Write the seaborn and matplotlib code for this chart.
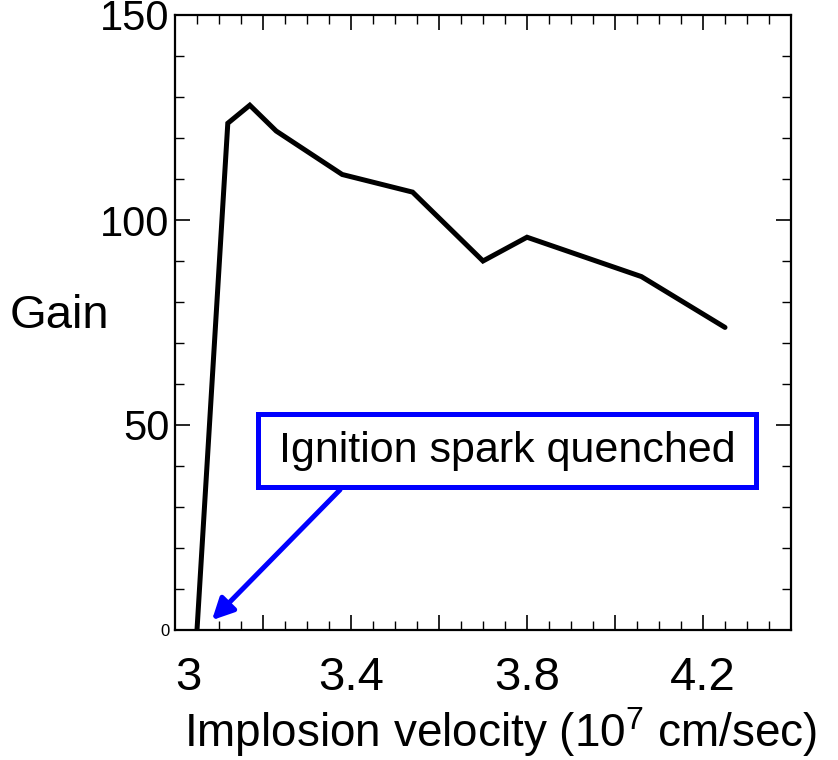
import matplotlib
matplotlib.use("Agg")
import matplotlib.pyplot as plt
import seaborn as sns
import pandas as pd
from matplotlib.patches import Rectangle
from matplotlib.ticker import MultipleLocator

# Gain versus implosion velocity
velocity = [3.05, 3.12, 3.17, 3.23, 3.38, 3.54, 3.70, 3.80, 4.06, 4.25]
gain = [0.0, 123.6, 128.0, 121.7, 111.1, 106.8, 90.0, 95.8, 86.2, 73.8]

x_ticks = [3.0, 3.2, 3.4, 3.6, 3.8, 4.0, 4.2, 4.4]
x_tick_labels = ["3", "", "3.4", "", "3.8", "", "4.2", ""]
y_ticks = [0, 50, 100, 150]
y_tick_labels = ["0", "50", "100", "150"]

df = pd.DataFrame({"velocity": velocity, "gain": gain})

sns.set_style("ticks")
plt.rcParams["font.family"] = ["Liberation Sans", "DejaVu Sans"]
plt.rcParams["mathtext.fontset"] = "custom"
plt.rcParams["mathtext.rm"] = "Liberation Sans"
plt.rcParams["mathtext.it"] = "Liberation Sans:italic"
plt.rcParams["text.color"] = "black"
plt.rcParams["axes.labelcolor"] = "black"
plt.rcParams["xtick.color"] = "black"
plt.rcParams["ytick.color"] = "black"

fig = plt.figure(figsize=(8.38, 7.6), dpi=100)
ax = fig.add_axes([175 / 838, 1 - 630 / 760, 616 / 838, 615 / 760])

sns.lineplot(data=df, x="velocity", y="gain", ax=ax, color="black",
             linewidth=3.6, sort=False, solid_joinstyle="miter")

ax.set_xlim(3.0, 4.4)
ax.set_ylim(0, 150)

for side in ["left", "right", "top", "bottom"]:
    ax.spines[side].set_visible(True)
    ax.spines[side].set_linewidth(1.6)
    ax.spines[side].set_color("black")

ax.set_xticks(x_ticks)
ax.set_xticklabels(x_tick_labels)
ax.xaxis.set_minor_locator(MultipleLocator(0.05))
ax.set_yticks(y_ticks)
ax.set_yticklabels(y_tick_labels)
ax.yaxis.set_minor_locator(MultipleLocator(10))

ax.tick_params(which="both", direction="in", top=True, right=True, color="black")
ax.tick_params(which="major", length=11, width=1.2)
ax.tick_params(which="minor", length=6.5, width=1.0)
ax.tick_params(axis="x", which="major", labelsize=34, pad=19)
ax.tick_params(axis="y", which="major", labelsize=30, pad=4)

# the first velocity label sits just right of the axis corner
ax.get_xticklabels()[0].set_horizontalalignment("left")

# small label at zero gain
for lab in ax.get_yticklabels():
    if lab.get_text() == "0":
        lab.set_fontsize(12)

ax.set_xlabel("Implosion velocity (10$^{\\mathrm{7}}$ cm/sec)", fontsize=33)
ax.xaxis.set_label_coords(0.528, -0.122)
ax.set_ylabel("Gain", fontsize=34, rotation=0, va="center", ha="center")
ax.yaxis.set_label_coords(-0.188, 0.51)

# annotation box and arrow
ax.add_patch(Rectangle((3.189, 34.9), 4.32 - 3.189, 52.7 - 34.9,
                       fill=False, edgecolor="#0000ff", linewidth=3.6, zorder=5))
ax.text(3.756, 43.6, "Ignition spark quenched", fontsize=31,
        ha="center", va="center", color="black", zorder=6)
ax.annotate("", xy=(3.084, 2.4), xytext=(3.375, 34.2),
            arrowprops=dict(arrowstyle="-|>", color="#0000ff", lw=3.6,
                            mutation_scale=32, shrinkA=0, shrinkB=0))

fig.savefig("out.png", dpi=100)
